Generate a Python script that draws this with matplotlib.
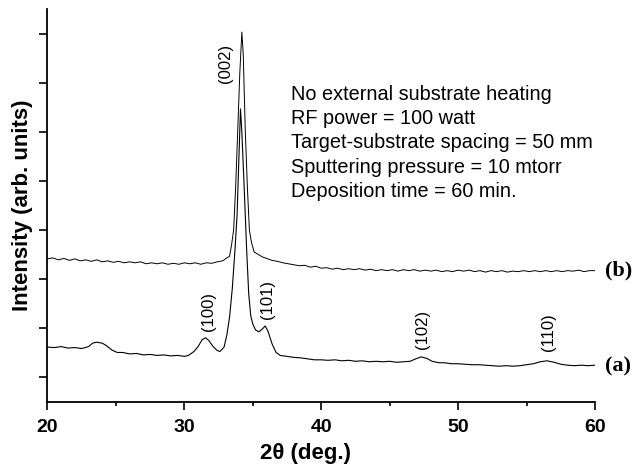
import matplotlib
matplotlib.use("Agg")
import matplotlib.pyplot as plt
from matplotlib.ticker import MultipleLocator

plt.rcParams["font.family"] = "Liberation Sans"

# curve (a): with the listed conditions, lower trace
two_theta_a = [20.0, 20.5, 21.0, 21.5, 22.0, 22.5, 23.0, 23.3, 23.6, 24.0, 24.3, 24.7,
               25.1, 25.5, 26.0, 26.5, 27.0, 27.5, 28.0, 28.5, 29.0, 29.5, 30.0, 30.3,
               30.7, 31.0, 31.3, 31.55, 31.8, 32.1, 32.4, 32.6, 32.9, 33.1, 33.3, 33.5,
               33.7, 33.85, 34.0, 34.1, 34.2, 34.35, 34.55, 34.7, 34.85, 35.0, 35.2, 35.45,
               35.7, 35.9, 36.1, 36.4, 36.7, 37.0, 37.5, 38.0, 38.5, 39.0, 39.5, 40.0,
               40.5, 41.0, 41.5, 42.0, 42.5, 43.0, 43.5, 44.0, 44.5, 45.0, 45.5, 46.0,
               46.5, 46.9, 47.3, 47.7, 48.1, 48.6, 49.0, 49.5, 50.0, 50.5, 51.0, 51.5,
               52.0, 52.5, 53.0, 53.5, 54.0, 54.5, 55.0, 55.5, 56.0, 56.5, 57.0, 57.5,
               58.0, 58.5, 59.0, 59.5, 60.0]
intensity_a = [0.61, 0.60, 0.62, 0.59, 0.60, 0.58, 0.62, 0.69, 0.71, 0.69, 0.64, 0.55,
               0.50, 0.50, 0.47, 0.48, 0.45, 0.46, 0.44, 0.45, 0.43, 0.44, 0.42, 0.44,
               0.52, 0.62, 0.76, 0.80, 0.74, 0.62, 0.54, 0.52, 0.61, 0.85, 1.22, 1.80,
               2.60, 3.30, 4.60, 5.47, 5.00, 4.00, 2.60, 1.70, 1.25, 1.08, 0.96, 0.92,
               0.98, 1.04, 0.94, 0.68, 0.50, 0.44, 0.42, 0.40, 0.39, 0.37, 0.35, 0.35,
               0.34, 0.35, 0.33, 0.34, 0.32, 0.33, 0.31, 0.32, 0.31, 0.32, 0.30, 0.31,
               0.32, 0.37, 0.41, 0.38, 0.32, 0.29, 0.29, 0.27, 0.27, 0.26, 0.25, 0.25,
               0.24, 0.23, 0.22, 0.23, 0.22, 0.23, 0.25, 0.27, 0.31, 0.33, 0.30, 0.26,
               0.24, 0.23, 0.24, 0.23, 0.24]

# curve (b): upper trace
two_theta_b = [20.0, 20.4, 20.8, 21.2, 21.6, 22.0, 22.4, 22.8, 23.2, 23.6, 24.0, 24.4,
               24.8, 25.2, 25.6, 26.0, 26.4, 26.8, 27.2, 27.6, 28.0, 28.4, 28.8, 29.2,
               29.6, 30.0, 30.4, 30.8, 31.2, 31.6, 32.0, 32.4, 32.8, 33.1, 33.3, 33.45,
               33.6, 33.75, 33.9, 34.05, 34.2, 34.3, 34.45, 34.6, 34.75, 34.9, 35.1, 35.4,
               35.7, 36.0, 36.4, 36.8, 37.2, 37.6, 38.0, 38.4, 38.8, 39.2, 39.6, 40.0,
               40.4, 40.8, 41.2, 41.6, 42.0, 42.4, 42.8, 43.2, 43.6, 44.0, 44.4, 44.8,
               45.2, 45.6, 46.0, 46.4, 46.8, 47.2, 47.6, 48.0, 48.4, 48.8, 49.2, 49.6,
               50.0, 50.4, 50.8, 51.2, 51.6, 52.0, 52.4, 52.8, 53.2, 53.6, 54.0, 54.4,
               54.8, 55.2, 55.6, 56.0, 56.4, 56.8, 57.2, 57.6, 58.0, 58.4, 58.8, 59.2,
               59.6, 60.0]
intensity_b = [2.41, 2.43, 2.39, 2.42, 2.38, 2.41, 2.37, 2.39, 2.36, 2.39, 2.35, 2.37,
               2.34, 2.36, 2.33, 2.35, 2.33, 2.35, 2.31, 2.33, 2.31, 2.33, 2.30, 2.32,
               2.30, 2.33, 2.31, 2.33, 2.30, 2.33, 2.32, 2.35, 2.37, 2.43, 2.46, 2.70,
               3.00, 3.90, 5.04, 6.20, 7.04, 6.60, 5.04, 3.90, 3.00, 2.75, 2.55, 2.50,
               2.45, 2.42, 2.38, 2.36, 2.33, 2.31, 2.29, 2.27, 2.28, 2.24, 2.26, 2.22,
               2.23, 2.20, 2.22, 2.19, 2.21, 2.19, 2.21, 2.18, 2.20, 2.17, 2.19, 2.17,
               2.19, 2.16, 2.19, 2.17, 2.19, 2.16, 2.18, 2.16, 2.18, 2.15, 2.17, 2.15,
               2.18, 2.16, 2.18, 2.15, 2.17, 2.14, 2.17, 2.15, 2.17, 2.14, 2.16, 2.15,
               2.17, 2.15, 2.17, 2.15, 2.17, 2.15, 2.17, 2.15, 2.17, 2.16, 2.18, 2.15,
               2.17, 2.17]

peak_labels = ["(002)", "(100)", "(101)", "(102)", "(110)"]
peak_x = [33.0, 31.75, 36.1, 47.4, 56.6]
peak_y = [6.4, 1.33, 1.59, 0.96, 0.92]

conditions = ["No external substrate heating",
              "RF power = 100 watt",
              "Target-substrate spacing = 50 mm",
              "Sputtering pressure = 10 mtorr",
              "Deposition time = 60 min."]

fig = plt.figure(figsize=(6.33, 4.74), dpi=100)
ax = fig.add_axes([0.075, 0.152, 0.865, 0.829])

ax.plot(two_theta_a, intensity_a, color="black", lw=0.8)
ax.plot(two_theta_b, intensity_b, color="black", lw=0.7)

for lab, x, y in zip(peak_labels, peak_x, peak_y):
    ax.text(x, y, lab, rotation=90, ha="center", va="center", fontsize=12)

for i, line in enumerate(conditions):
    ax.text(37.8, 5.96 - i * 0.495, line, ha="left", va="top", fontsize=14.3)

ax.text(60.7, 2.18, "(b)", family="Liberation Serif", weight="bold", fontsize=16,
        ha="left", va="center", clip_on=False)
ax.text(60.7, 0.22, "(a)", family="Liberation Serif", weight="bold", fontsize=16,
        ha="left", va="center", clip_on=False)

ax.set_xlim(20, 60)
ax.set_ylim(-0.51, 7.51)
ax.xaxis.set_major_locator(MultipleLocator(10))
ax.xaxis.set_minor_locator(MultipleLocator(5))
ax.set_yticks(range(8))
ax.set_yticklabels([])
ax.spines["top"].set_visible(False)
ax.spines["right"].set_visible(False)
for s in ["left", "bottom"]:
    ax.spines[s].set_linewidth(1.3)
ax.tick_params(axis="both", which="major", direction="out", length=5.5, width=1.2)
ax.tick_params(axis="x", which="major", pad=6.5)
ax.tick_params(axis="x", which="minor", direction="out", length=3, width=1.2)
for t in ax.get_xticklabels():
    t.set_fontweight("bold")
    t.set_fontsize(14)

ax.set_xlabel("2θ (deg.)", fontsize=16, fontweight="bold")
ax.xaxis.set_label_coords(0.472, -0.105)
ax.set_ylabel("Intensity (arb. units)", fontsize=16, fontweight="bold")
ax.yaxis.set_label_coords(-0.027, 0.5)

fig.savefig("out.png", dpi=100)
